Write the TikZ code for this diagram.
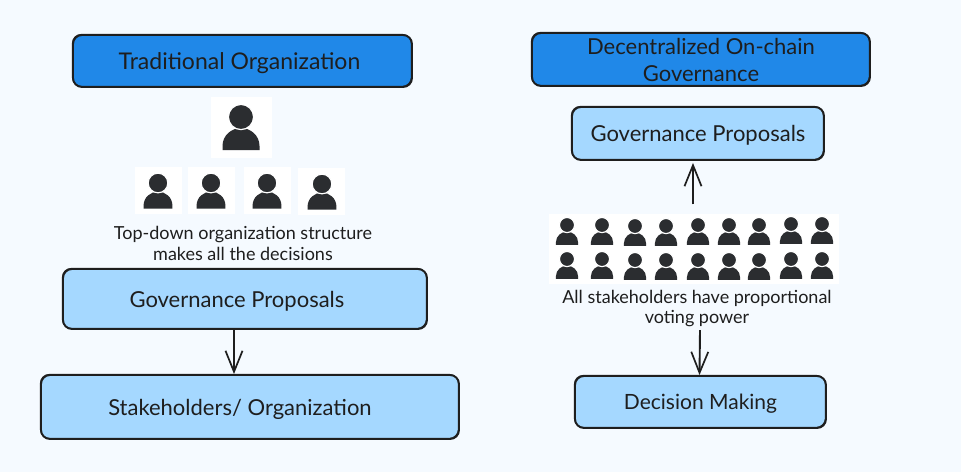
\documentclass[tikz,border=0pt]{standalone}
\usepackage{fontspec}
\setmainfont{Lato}
\usetikzlibrary{arrows.meta}
\definecolor{bgc}{HTML}{F5FAFF}
\definecolor{darkb}{HTML}{2088E8}
\definecolor{lightb}{HTML}{A5D8FF}
\definecolor{inkc}{HTML}{1E1E1E}
\definecolor{personc}{HTML}{2B2D30}
\tikzset{
  x=1pt,y=-1pt,
  box/.style={draw=inkc,line width=1.9pt,rounded corners=9pt,inner sep=0pt,text=inkc,align=center,text depth=0pt,
    font=\fontsize{22}{27}\selectfont,
    postaction={draw=inkc,line width=.8pt,rounded corners=9pt,transform canvas={xshift=-.7pt,yshift=.7pt}}},
  headbox/.style={box,fill=darkb},
  lightbox/.style={box,fill=lightb},
  caption/.style={text=inkc,align=center,inner sep=0pt,font=\fontsize{18}{20.5}\selectfont},
  tile/.style={fill=white,inner sep=0pt},
  flow/.style={draw=inkc,line width=1.9pt,-{Straight Barb[length=21pt,width=17pt,line width=1.7pt]}},
  person/.pic={
    \fill[personc] (-18.5,33) -- (-18.5,29) .. controls (-18.5,18) and (-9,11) .. (0,11) .. controls (9,11) and (18.5,18) .. (18.5,29) -- (18.5,33) -- cycle;
    \filldraw[fill=personc,draw=white,line width=1.2pt] (0,0) circle (12.6);
  }
}
\begin{document}
\begin{tikzpicture}
\useasboundingbox[fill=bgc] (0,0) rectangle (961,472);

% headers
\node[headbox,minimum width=339pt,minimum height=52pt,font=\fontsize{23}{27}\selectfont] (trad) at (242.5,61) {\kern-6pt Traditional Organization};
\node[headbox,minimum width=338pt,minimum height=53pt] (dec) at (701,59.5) {Decentralized On-chain\\Governance};

% left column
\node[lightbox,minimum width=364pt,minimum height=60pt] (lgov) at (245,299) {\kern-16pt Governance Proposals};
\node[lightbox,minimum width=418pt,minimum height=64pt] (stake) at (250,407) {\kern-20pt Stakeholders/ Organization};
\node[caption] (topdown) at (243,243.5) {Top-down organization structure\\makes all the decisions};

% right column
\node[lightbox,minimum width=252pt,minimum height=53pt] (rgov) at (698,133.5) {Governance Proposals};
\node[lightbox,minimum width=251pt,minimum height=52pt,font=\fontsize{21}{27}\selectfont] (decision) at (700.5,402) {Decision Making};
\node[caption] (allstake) at (697,308.5) {All stakeholders have proportional\\voting power};

% people, left
\node[tile,minimum width=61pt,minimum height=61pt] (boss) at (241.5,127.5) {};
\pic at (241,117) {person};
\node[tile,minimum width=47pt,minimum height=47pt] (t1) at (158.5,190.5) {};
\node[tile,minimum width=47pt,minimum height=47pt] (t2) at (211.5,190.5) {};
\node[tile,minimum width=47pt,minimum height=47pt] (t3) at (267.5,190.5) {};
\node[tile,minimum width=47pt,minimum height=47pt] (t4) at (321.5,191) {};
\foreach \px/\py in {158/183,211/183,267/183,322/184}
  \pic[scale=.78] at (\px,\py) {person};

% people, right
\node[tile,minimum width=290pt,minimum height=70pt] (crowd) at (694,248.5) {};
\foreach \px/\pa/\pb in {567/225/259,602/225/259,635/226/260,666/226/260,698/225/260,729/225/260,759/225/260,791/224/259,822/224/259}{
  \pic[scale=.6] at (\px,\pa) {person};
  \pic[scale=.6] at (\px,\pb) {person};
}

% connectors
\draw[flow] ([xshift=-11pt]lgov.south) -- ([xshift=-16pt]stake.north);
\draw[flow] ([xshift=-1pt,yshift=9pt]crowd.north) -- ([xshift=-5pt,yshift=-2pt]rgov.south);
\draw[flow] ([xshift=3pt,yshift=-3pt]allstake.south) -- ([xshift=-1pt]decision.north);
\end{tikzpicture}
\end{document}
